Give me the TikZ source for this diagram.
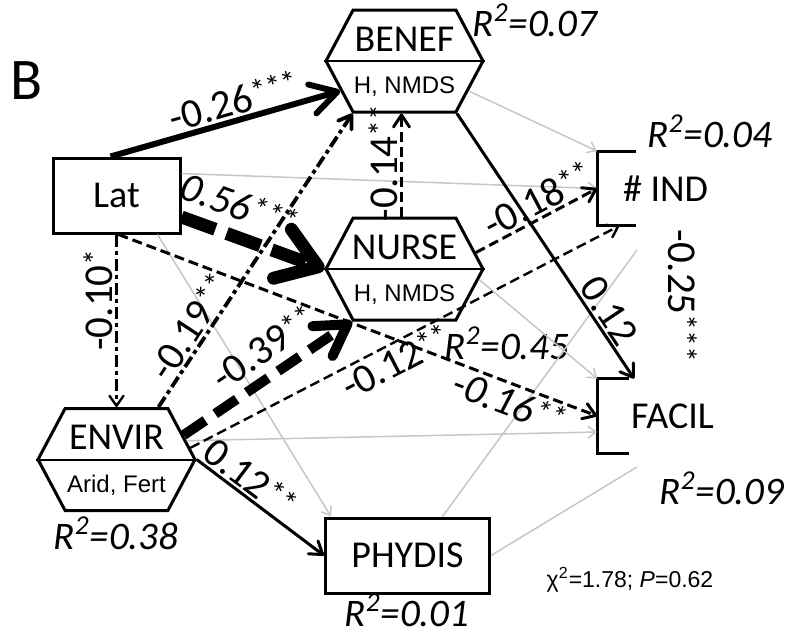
\documentclass[tikz,border=0pt]{standalone}
\usepackage{fontspec}
\setmainfont{Carlito}
\newfontfamily\arialfont{Liberation Sans}
\usetikzlibrary{shapes.symbols, arrows.meta}
\newcommand{\boxfont}{\fontsize{19}{22}\selectfont}
\newcommand{\hexsubfont}{\arialfont\fontsize{12}{14}\selectfont}
\newcommand{\coeffont}{\fontsize{20.5}{22}\selectfont}
\newcommand{\rsqfont}{\itshape\fontsize{19.5}{22}\selectfont}
\newcommand{\sig}[1]{\raisebox{3pt}{\fontsize{16}{16}\selectfont #1}}
\tikzstyle{rbox} = [rectangle, draw=black, line width=1.5pt, minimum width=63.5pt, minimum height=37.5pt, font=\boxfont]
\tikzstyle{obox} = [rectangle, minimum height=37pt, font=\boxfont]
\tikzstyle{hexa} = [signal, signal from=nowhere, signal to=east and west, signal pointer angle=124, draw=black, line width=1.5pt, minimum width=78.5pt, minimum height=51pt, inner sep=0pt]
\tikzstyle{hextop} = [font=\boxfont, yshift=11pt]
\tikzstyle{hexsub} = [font=\hexsubfont, yshift=-13pt]
\tikzstyle{coef} = [font=\coeffont, inner sep=1pt]
\tikzstyle{rsq} = [font=\rsqfont, inner sep=0pt]
\tikzstyle{arrow} = [line width=1.5pt, -{Straight Barb[round, length=6pt, width=8pt]}]
\tikzstyle{thinarrow} = [line width=1.2pt, -{Straight Barb[round, length=5pt, width=7pt]}]
\tikzstyle{dashes} = [dash pattern=on 5pt off 2.5pt]
\tikzstyle{dotdash} = [dash pattern=on 6pt off 2pt on 2pt off 2pt]
\tikzstyle{grayline} = [gray!45, line width=0.75pt]
\tikzstyle{grayarrow} = [grayline, -{Straight Barb[length=4pt, width=6pt]}]

\begin{document}
\begin{tikzpicture}[x=0.5pt, y=-0.5pt, node distance=100pt]
    \useasboundingbox (0,0) rectangle (788,634);
    \node (panel) [font=\fontsize{29.5}{32}\selectfont] at (27,81) {B};
    \node (lat) [rbox] at (116.5,195.5) {Lat};
    \node (benef) [hexa, right of=lat, xshift=44pt, yshift=67.25pt, label={[hextop]center:BENEF}, label={[hexsub]center:H, NMDS}] {};
    \node (nurse) [hexa, below of=benef, yshift=-4pt, label={[hextop]center:NURSE}, label={[hexsub]center:H, NMDS}] {};
    \node (envir) [hexa, below of=lat, yshift=-32pt, label={[hextop]center:ENVIR}, label={[hexsub]center:Arid, Fert}] {};
    \node (phydis) [rbox, minimum width=82pt, below of=nurse, xshift=1.5pt, yshift=-43.25pt] {PHYDIS};
    \node (ind) [obox, minimum width=68pt, right of=nurse, xshift=30.5pt, yshift=40.25pt] {\# IND};
    \node (facil) [obox, minimum width=75pt, below of=ind, xshift=3.5pt, yshift=-13.75pt] {FACIL};
    \draw [line width=1.5pt] ([xshift=19.5pt]ind.north west) -- (ind.north west) -- (ind.south west) -- ([xshift=19.5pt]ind.south west);
    \draw [line width=1.5pt] ([xshift=15.75pt]facil.north west) -- (facil.north west) -- (facil.south west) -- ([xshift=15.75pt]facil.south west);
    \draw [line width=1pt] (benef.west) -- (benef.east);
    \draw [line width=1pt] (nurse.west) -- (nurse.east);
    \draw [line width=1pt] (envir.west) -- (envir.east);
    % R2 of each variable
    \node (r2benef) [rsq] at (535,20) {R\textsuperscript{2}=0.07};
    \node (r2ind) [rsq] at (710,131) {R\textsuperscript{2}=0.04};
    \node (r2nurse) [rsq] at (507,343) {R\textsuperscript{2}=0.45};
    \node (r2facil) [rsq] at (722,488) {R\textsuperscript{2}=0.09};
    \node (r2envir) [rsq] at (116,533) {R\textsuperscript{2}=0.38};
    \node (r2phydis) [rsq] at (407,610) {R\textsuperscript{2}=0.01};
    \node (fit) [font=\arialfont\fontsize{11.5}{13}\selectfont] at (630,580) {χ\textsuperscript{2}=1.78; \textit{P}=0.62};
    \node (cor) [coef, rotate=-90] at (683,296) {-0.25\sig{***}};
    % non significant paths
    \coordinate (indhid) at (637,250);
    \coordinate (facilhid) at (637,467);
    \draw [grayarrow] ([yshift=11pt]lat.east) -- (ind.west);
    \draw [grayarrow] (benef.-25) -- (ind.north west);
    \draw [grayarrow] (nurse.-8) -- (facil.north west);
    \draw [grayarrow] (envir.15) -- ([yshift=-8pt]facil.west);
    \draw [grayarrow] ([xshift=20.5pt]lat.south) -- ([xshift=3.5pt]phydis.north west);
    \draw [grayline] ([xshift=17.5pt]phydis.north) -- (indhid);
    \draw [grayline] (phydis.east) -- (facilhid);
    % significant paths
    \draw [arrow, line width=3pt, -{Straight Barb[round, length=13pt, width=15pt]}] ([xshift=-3pt]lat.north) -- node[coef, above, sloped, pos=0.56]{-0.26\sig{***}} (benef.205);
    \draw [arrow, line width=6.5pt, dash pattern=on 18pt off 6pt, -{Straight Barb[round, length=19pt, width=26pt]}] ([yshift=-10.75pt]lat.east) -- node[coef, above=4pt, sloped, pos=0.33]{\itshape 0.56\sig{***}} (nurse.west);
    \draw [arrow, dashes] ([xshift=-1.5pt]nurse.north) -- node[coef, rotate=90, anchor=south, pos=0.52]{-0.14\sig{**}} ([xshift=-1.5pt]benef.south);
    \draw [arrow, line width=1.9pt, dotdash] ([xshift=21pt]envir.north) -- node[coef, above, sloped, pos=0.24]{-0.19\sig{**}} ([xshift=-26pt]benef.south);
    \draw [thinarrow, dotdash] (lat.south) -- node[coef, rotate=90, anchor=south, pos=0.38]{-0.10\sig{*}} (envir.north);
    \draw [arrow] (benef.-45) -- node[coef, above, sloped, pos=0.78]{0.12} ([xshift=18.5pt]facil.north west);
    \draw [arrow] (envir.east) -- node[coef, above, sloped, pos=0.34]{0.12\sig{**}} (phydis.west);
    \draw [arrow, dashes] ([xshift=1pt]lat.south) -- node[coef, below, sloped, pos=0.83]{\itshape -0.16\sig{**}} (facil.west);
    \draw [arrow, dashes] (nurse.13) -- node[coef, above, sloped, pos=0.58]{-0.18\sig{**}} (ind.west);
    \draw [arrow, line width=5pt, dash pattern=on 13pt off 6pt, -{Straight Barb[round, length=15pt, width=18pt]}] (envir.20) -- node[coef, above=3pt, sloped, pos=0.57]{-0.39\sig{**}} ([xshift=-26.5pt]nurse.south);
    \draw [thinarrow, dashes] (envir.9) -- node[coef, below, sloped, pos=0.46]{-0.12\sig{**}} ([xshift=11pt]ind.south west);
\end{tikzpicture}
\end{document}
